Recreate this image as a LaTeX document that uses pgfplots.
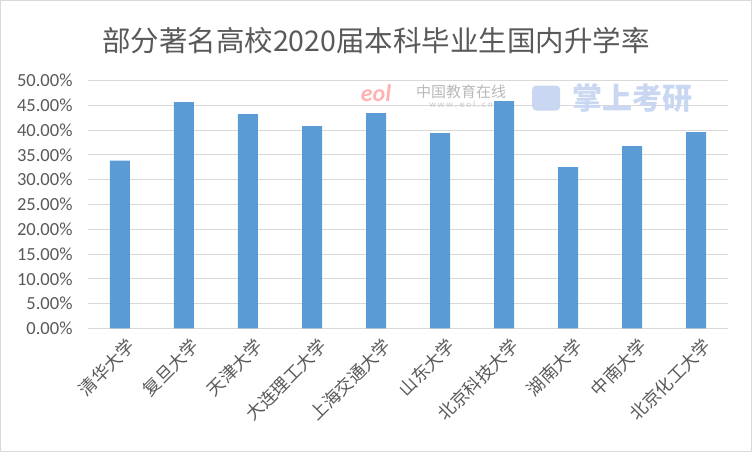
\documentclass[border=0pt]{standalone}
\usepackage{pgfplots}
\pgfplotsset{compat=1.18}
\usepackage{fontspec}
\setmainfont{Carlito}
\newfontfamily\cjk{Noto Sans CJK SC}
\definecolor{barblue}{HTML}{5B9BD5}
\definecolor{txtgray}{HTML}{595959}
\definecolor{gridgray}{HTML}{D9D9D9}
\definecolor{wmblue}{HTML}{C9D7F2}

\begin{document}
\begin{tikzpicture}
\begin{axis}[
    scale only axis,
    width=640bp, height=247.6bp,
    xmin=-0.5, xmax=9.5, ymin=0, ymax=50,
    ybar, bar width=20bp,
    axis line style={draw=none},
    tick style={draw=none},
    ymajorgrids, major grid style={gridgray, line width=1bp},
    xtick={0,...,9},
    xticklabels={清华大学,复旦大学,天津大学,大连理工大学,上海交通大学,山东大学,北京科技大学,湖南大学,中南大学,北京化工大学},
    x tick label style={rotate=45, anchor=north east, text=txtgray,
        font=\cjk\fontsize{17.5bp}{19bp}\selectfont, inner sep=1bp, yshift=-6bp, xshift=2bp},
    ytick={0,5,...,50},
    /pgf/number format/assume math mode=true,
    yticklabel={\pgfmathprintnumber[fixed,fixed zerofill,precision=2]{\tick}\%},
    y tick label style={text=txtgray, font=\fontsize{18.5bp}{20bp}\selectfont, xshift=-12bp},
    clip=false,
]
\addplot[fill=barblue, draw=none] coordinates {
    (0,33.84) (1,45.69) (2,43.27) (3,40.84) (4,43.47)
    (5,39.43) (6,45.89) (7,32.56) (8,36.80) (9,39.63)
};
% title and faint watermarks
\node[text=txtgray, font=\cjk\fontsize{28.5bp}{32bp}\selectfont]
    at (rel axis cs:0.45,1.164) {部分著名高校2020届本科毕业生国内升学率};
\node[text=red!30, font=\bfseries\itshape\fontsize{24bp}{26bp}\selectfont]
    at (rel axis cs:0.45,0.95) {eol};
\node[text=gray!55, font=\cjk\fontsize{15bp}{16bp}\selectfont]
    at (rel axis cs:0.583,0.957) {中国教育在线};
\node[text=gray!45, font=\fontsize{9bp}{10bp}\selectfont]
    at (rel axis cs:0.583,0.905) {w w w . e o l . c n};
\node[fill=wmblue, rounded corners=4bp, minimum width=28bp, minimum height=25bp, inner sep=0pt]
    at (rel axis cs:0.716,0.93) {};
\node[text=wmblue, font=\cjk\bfseries\fontsize{30bp}{32bp}\selectfont]
    at (rel axis cs:0.85,0.93) {掌上考研};
\end{axis}
\draw[gridgray, line width=1.5bp] (-87.25bp,-122.95bp) rectangle (663.25bp,327.55bp);
\end{tikzpicture}
\end{document}
